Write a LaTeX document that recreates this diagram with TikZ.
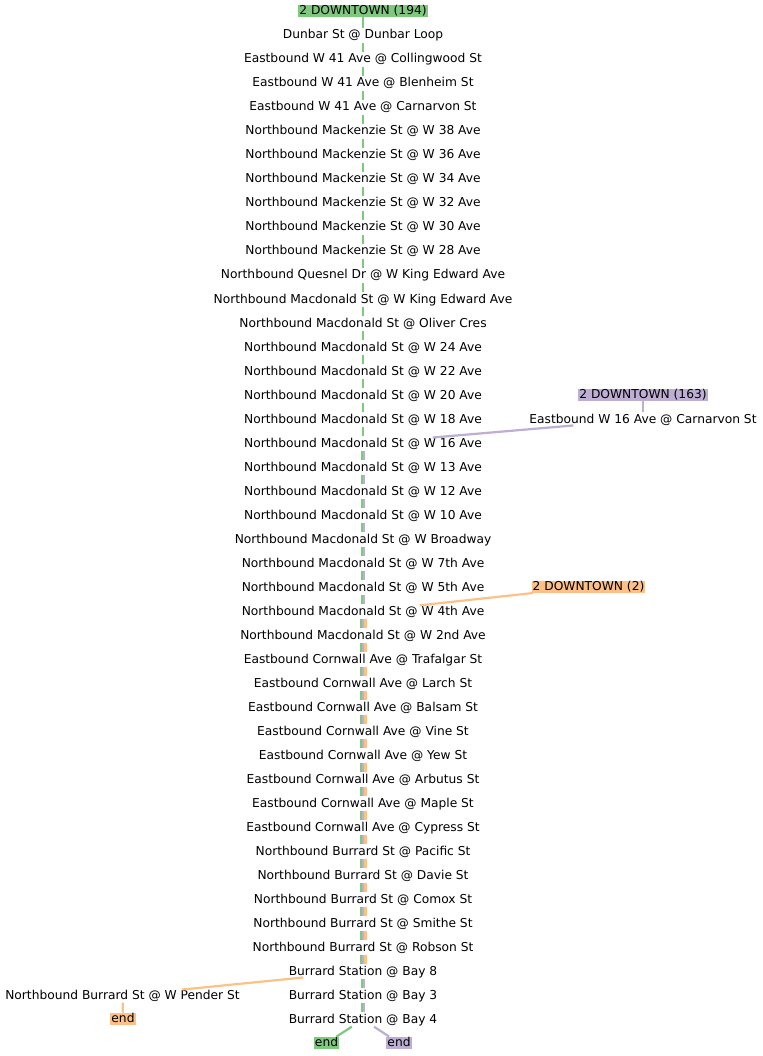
\documentclass[tikz,border=0pt]{standalone}
\usepackage{fontspec}
\setmainfont{DejaVu Sans}
\definecolor{cg}{HTML}{7FC97F}
\definecolor{cp}{HTML}{BEAED4}
\definecolor{co}{HTML}{FDC086}
\begin{document}
\begin{tikzpicture}[x=1pt,y=-1pt,
  stop/.style={font=\fontsize{12.25}{14}\selectfont, inner xsep=1pt, inner ysep=0pt, text height=10.5pt, text depth=3.5pt},
  title/.style={stop, inner ysep=0.5pt, text height=9pt, text depth=2.5pt, fill=#1},
  ln/.style={line width=2.2pt, draw=#1}]
\useasboundingbox (0,0) rectangle (762,1056);
\node[title=cg] (m0) at (363,11) {2 DOWNTOWN (194)};
\foreach \t [count=\i] in {
Dunbar St @ Dunbar Loop,
Eastbound W 41 Ave @ Collingwood St,
Eastbound W 41 Ave @ Blenheim St,
Eastbound W 41 Ave @ Carnarvon St,
Northbound Mackenzie St @ W 38 Ave,
Northbound Mackenzie St @ W 36 Ave,
Northbound Mackenzie St @ W 34 Ave,
Northbound Mackenzie St @ W 32 Ave,
Northbound Mackenzie St @ W 30 Ave,
Northbound Mackenzie St @ W 28 Ave,
Northbound Quesnel Dr @ W King Edward Ave,
Northbound Macdonald St @ W King Edward Ave,
Northbound Macdonald St @ Oliver Cres,
Northbound Macdonald St @ W 24 Ave,
Northbound Macdonald St @ W 22 Ave,
Northbound Macdonald St @ W 20 Ave,
Northbound Macdonald St @ W 18 Ave,
Northbound Macdonald St @ W 16 Ave,
Northbound Macdonald St @ W 13 Ave,
Northbound Macdonald St @ W 12 Ave,
Northbound Macdonald St @ W 10 Ave,
Northbound Macdonald St @ W Broadway,
Northbound Macdonald St @ W 7th Ave,
Northbound Macdonald St @ W 5th Ave,
Northbound Macdonald St @ W 4th Ave,
Northbound Macdonald St @ W 2nd Ave,
Eastbound Cornwall Ave @ Trafalgar St,
Eastbound Cornwall Ave @ Larch St,
Eastbound Cornwall Ave @ Balsam St,
Eastbound Cornwall Ave @ Vine St,
Eastbound Cornwall Ave @ Yew St,
Eastbound Cornwall Ave @ Arbutus St,
Eastbound Cornwall Ave @ Maple St,
Eastbound Cornwall Ave @ Cypress St,
Northbound Burrard St @ Pacific St,
Northbound Burrard St @ Davie St,
Northbound Burrard St @ Comox St,
Northbound Burrard St @ Smithe St,
Northbound Burrard St @ Robson St,
Burrard Station @ Bay 8,
Burrard Station @ Bay 3,
Burrard Station @ Bay 4}
  \node[stop] (m\i) at (363,11.5+24*\i) {\t};
% purple branch
\node[title=cp] (p0) at (643,395) {2 DOWNTOWN (163)};
\node[stop] (p1) at (643,419.5) {Eastbound W 16 Ave @ Carnarvon St};
% orange branch
\node[title=co] (o0) at (588.5,587) {2 DOWNTOWN (2)};
\node[stop] (pender) at (122.5,995.5) {Northbound Burrard St @ W Pender St};
\node[title=co] (oend) at (123,1019) {end};
\node[title=cg] (gend) at (326.5,1043) {end};
\node[title=cp] (pend) at (399,1043) {end};
% green alone
\foreach \i in {0,...,17}{
  \pgfmathtruncatemacro\j{\i+1}
  \draw[ln=cg] (m\i) -- (m\j);
}
% green + purple
\foreach \i in {18,...,24,40,41}{
  \pgfmathtruncatemacro\j{\i+1}
  \draw[ln=cg] ([xshift=-1.2pt]m\i.south) -- ([xshift=-1.2pt]m\j.north);
  \draw[ln=cp] ([xshift=1.2pt]m\i.south) -- ([xshift=1.2pt]m\j.north);
}
% green + purple + orange
\foreach \i in {25,...,39}{
  \pgfmathtruncatemacro\j{\i+1}
  \draw[ln=cg] ([xshift=-2.4pt]m\i.south) -- ([xshift=-2.4pt]m\j.north);
  \draw[ln=cp] (m\i.south) -- (m\j.north);
  \draw[ln=co] ([xshift=2.4pt]m\i.south) -- ([xshift=2.4pt]m\j.north);
}
\draw[ln=cp] (p0) -- (p1);
\draw[ln=cp, shorten <=70pt, shorten >=70pt] (p1.center) -- (m18.center);
\draw[ln=co, shorten <=56pt, shorten >=57pt] (o0.center) -- (m25.center);
\draw[ln=co, shorten <=60pt, shorten >=60pt] (m40.center) -- (pender.center);
\draw[ln=co] (pender) -- (oend);
\draw[ln=cg] (m42) -- (gend);
\draw[ln=cp] (m42) -- (pend);
\end{tikzpicture}
\end{document}
